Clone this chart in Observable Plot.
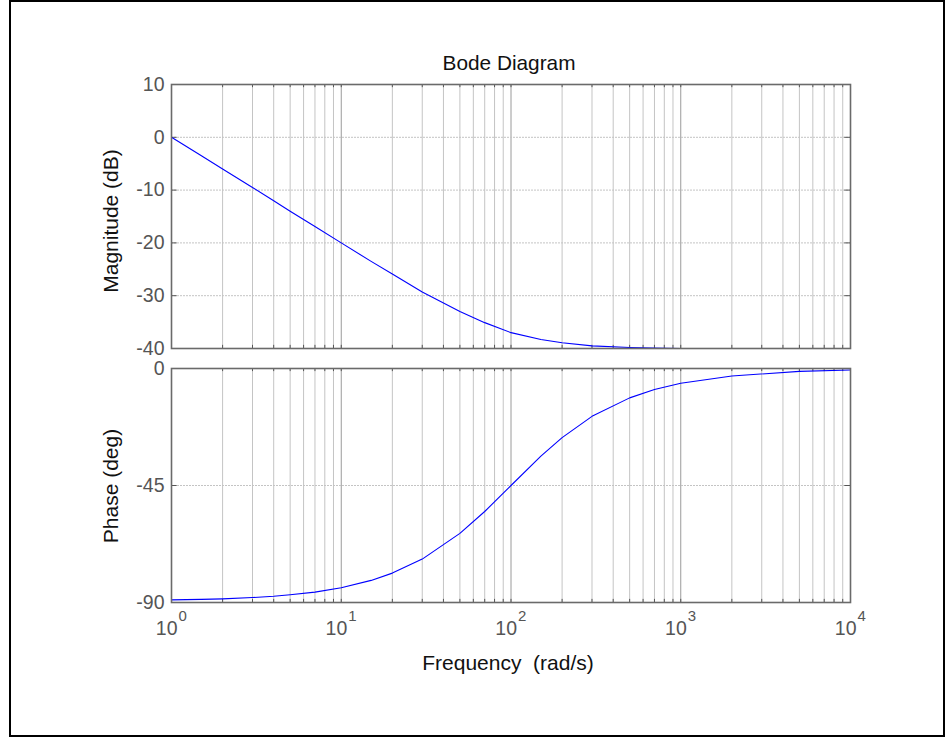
<!DOCTYPE html>
<html>
<head>
<meta charset="utf-8">
<script src="https://cdn.jsdelivr.net/npm/d3@7"></script>
<script src="https://cdn.jsdelivr.net/npm/@observablehq/plot@0.6"></script>
<style>
  html, body { margin: 0; padding: 0; background: #fff; }
  #page { position: relative; width: 952px; height: 740px; overflow: hidden; background: #fff;
          font-family: Arial, "Liberation Sans", Helvetica, sans-serif; }
  #border { position: absolute; left: 9px; top: 0px; width: 936px; height: 737px;
            border: 2px solid #000; box-sizing: border-box; }
  .plot { position: absolute; left: 0; }
  .lbl { position: absolute; white-space: pre; color: #111; line-height: 1; }
</style>
</head>
<body>
<div id="page">
  <div id="border"></div>
</div>
<script>
// Frequency samples (rad/s) with magnitude (dB) and phase (deg) at each
const freq  = [1, 1.5, 2, 3, 4, 5, 7, 10, 15, 20, 30, 50, 70, 100, 150, 200, 300, 500, 700, 1000, 2000, 5000, 10000];
const magDb = [0, -3.5, -6.0, -9.5, -12.0, -14.0, -16.9, -20.0, -23.5, -25.9, -29.3, -33.0, -35.1, -37.0, -38.3, -38.9, -39.5, -39.8, -39.9, -40.0, -40.0, -40.0, -40.0];
const phaseDeg = [-89.0, -88.8, -88.6, -88.1, -87.6, -87.0, -86.0, -84.3, -81.5, -78.7, -73.3, -63.4, -55.0, -45.0, -33.7, -26.6, -18.4, -11.3, -8.1, -5.7, -2.9, -1.1, -0.6];

// Axis ticks
const decades = [1, 10, 100, 1000, 10000];
const decadeExp = ["0", "1", "2", "3", "4"];
const minorMult = [2, 3, 4, 5, 6, 7, 8, 9];
const magTicks = [10, 0, -10, -20, -30, -40];
const magGrid = [0, -10, -20, -30];
const phaseTicks = [0, -45, -90];
const phaseGrid = [-45];

const minorFreqs = decades.slice(0, 4).flatMap(d => minorMult.map(m => m * d));
const innerDecades = decades.slice(1, 4);
const allFreqTicks = decades.concat(minorFreqs);

const rows = freq.map((f, i) => ({f, mag: magDb[i], ph: phaseDeg[i]}));

const tickColor = "#555555";
const frameColor = "#6a6a6a";
const gridMinor = "#c4c4c4";
const gridMajor = "#9a9a9a";

// Shared log x-scale settings: 10^0 .. 10^4 spanning x = 171 .. 850
const xOpts = {type: "log", domain: [1, 1e4], axis: null};
const W = 952, ML = 171, MR = 102;

// ---- Magnitude panel ----
const magPlot = Plot.plot({
  width: W, height: 360,
  marginLeft: ML, marginRight: MR, marginTop: 84, marginBottom: 12,
  x: xOpts,
  y: {domain: [-40, 10], axis: null},
  style: {background: "transparent", overflow: "visible", fontFamily: "Arial, 'Liberation Sans', sans-serif"},
  marks: [
    Plot.ruleX(minorFreqs, {stroke: gridMinor, strokeWidth: 1}),
    Plot.ruleX(innerDecades, {stroke: gridMajor, strokeWidth: 1}),
    Plot.ruleY(magGrid, {stroke: gridMinor, strokeWidth: 1, strokeDasharray: "2,1"}),
    // inward tick marks on top and bottom edges
    Plot.ruleX(allFreqTicks, {y1: 10, y2: 9.4, stroke: tickColor}),
    Plot.ruleX(allFreqTicks, {y1: -40, y2: -39.4, stroke: tickColor}),
    // inward tick marks on left and right edges
    Plot.ruleY(magTicks, {x1: 1, x2: 1.08, stroke: tickColor}),
    Plot.ruleY(magTicks, {x1: 10000 / 1.08, x2: 10000, stroke: tickColor}),
    Plot.line(rows, {x: "f", y: "mag", stroke: "#0000ff", strokeWidth: 1.1}),
    Plot.text(magTicks, {x: 1, y: d => d, text: d => String(d), textAnchor: "end", dx: -7,
                         fill: tickColor, fontSize: 19.5}),
    Plot.frame({stroke: frameColor, strokeWidth: 1.6})
  ]
});

// ---- Phase panel ----
const phasePlot = Plot.plot({
  width: W, height: 300,
  marginLeft: ML, marginRight: MR, marginTop: 18, marginBottom: 48,
  x: xOpts,
  y: {domain: [-90, 0], axis: null},
  style: {background: "transparent", overflow: "visible", fontFamily: "Arial, 'Liberation Sans', sans-serif"},
  marks: [
    Plot.ruleX(minorFreqs, {stroke: gridMinor, strokeWidth: 1}),
    Plot.ruleX(innerDecades, {stroke: gridMajor, strokeWidth: 1}),
    Plot.ruleY(phaseGrid, {stroke: gridMinor, strokeWidth: 1, strokeDasharray: "2,1"}),
    Plot.ruleX(allFreqTicks, {y1: 0, y2: -1.2, stroke: tickColor}),
    Plot.ruleX(allFreqTicks, {y1: -90, y2: -88.8, stroke: tickColor}),
    Plot.ruleY(phaseTicks, {x1: 1, x2: 1.08, stroke: tickColor}),
    Plot.ruleY(phaseTicks, {x1: 10000 / 1.08, x2: 10000, stroke: tickColor}),
    Plot.line(rows, {x: "f", y: "ph", stroke: "#0000ff", strokeWidth: 1.1}),
    Plot.text(phaseTicks, {x: 1, y: d => d, text: d => String(d), textAnchor: "end", dx: -7,
                           fill: tickColor, fontSize: 19.5}),
    // decade labels 10^n
    Plot.text(decades, {x: d => d, y: -90, text: () => "10", textAnchor: "end", dx: 6, dy: 26.5,
                        fill: tickColor, fontSize: 19.5}),
    Plot.text(decades, {x: d => d, y: -90, text: (d, i) => decadeExp[i], textAnchor: "start", dx: 7, dy: 14,
                        fill: tickColor, fontSize: 15}),
    Plot.frame({stroke: frameColor, strokeWidth: 1.6})
  ]
});

const page = document.getElementById("page");
magPlot.classList.add("plot");
magPlot.style.top = "0px";
phasePlot.classList.add("plot");
phasePlot.style.top = "350px";
page.appendChild(magPlot);
page.appendChild(phasePlot);

// Title and axis labels
function addLabel(text, x, y, size, rotate) {
  const el = document.createElement("div");
  el.className = "lbl";
  el.textContent = text;
  el.style.fontSize = size + "px";
  el.style.left = x + "px";
  el.style.top = y + "px";
  el.style.transform = "translate(-50%, -50%)" + (rotate ? " rotate(-90deg)" : "");
  page.appendChild(el);
  return el;
}
addLabel("Bode Diagram", 509, 63, 20.8, false);
addLabel("Magnitude (dB)", 110, 221, 21, true);
addLabel("Phase (deg)", 110, 486, 21, true);
addLabel("Frequency  (rad/s)", 508, 662, 21, false);
</script>
</body>
</html>
